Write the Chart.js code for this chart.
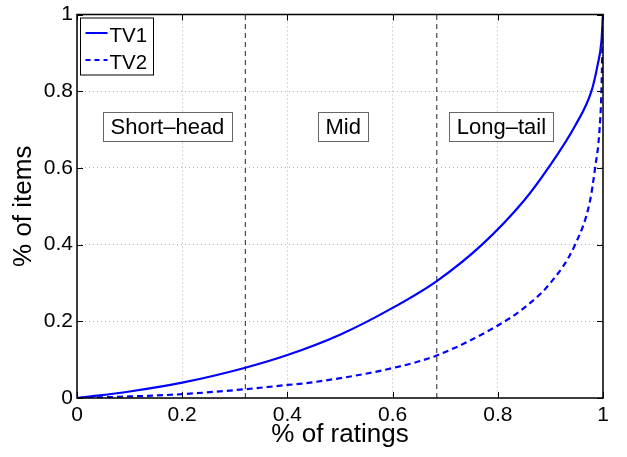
<!DOCTYPE html>
<html>
<head>
<meta charset="utf-8">
<script src="https://cdn.jsdelivr.net/npm/chart.js@4.4.0/dist/chart.umd.min.js"></script>
<style>
  html, body { margin: 0; padding: 0; background: #fff; }
  canvas { display: block; }
</style>
</head>
<body>
<canvas id="chart" width="627" height="457"></canvas>
<script>
// values
const tv1X = [0, 0.1, 0.2, 0.32, 0.4, 0.5, 0.6, 0.684, 0.77, 0.85, 0.896, 0.947, 0.978, 0.99, 0.997, 1];
const tv1Y = [0, 0.017, 0.04, 0.079, 0.112, 0.165, 0.235, 0.305, 0.4, 0.515, 0.6, 0.71, 0.8, 0.87, 0.93, 1];
const tv2X = [0, 0.1, 0.2, 0.32, 0.4, 0.443, 0.6, 0.684, 0.8, 0.85, 0.9, 0.947, 0.975, 0.985, 0.993, 0.997, 1];
const tv2Y = [0, 0.004, 0.01, 0.023, 0.034, 0.04, 0.078, 0.111, 0.189, 0.235, 0.3, 0.4, 0.512, 0.6, 0.692, 0.8, 1];
const seriesNames = ['TV1', 'TV2'];

const xTicks = [0, 0.2, 0.4, 0.6, 0.8, 1];
const yTicks = [0, 0.2, 0.4, 0.6, 0.8, 1];

// short-head / mid / long-tail split
const regionBounds = [0.32, 0.684];
const regionLabels = ['Short–head', 'Mid', 'Long–tail'];
const regionLabelX = [0.172, 0.506, 0.807];
const regionLabelY = 0.707;

const FONT = "'Liberation Sans', Arial, Helvetica, sans-serif";
const BLUE = '#0000ff';

const pts = (xs, ys) => xs.map((v, i) => ({ x: v, y: ys[i] }));
const fmt = v => String(Math.round(v * 10) / 10);

// frame, inward ticks, region boxes and legend (matlab look)
const matlabBits = {
  id: 'matlabBits',
  afterDatasetsDraw(chart) {
    const { ctx, chartArea: a, scales: { x, y } } = chart;
    ctx.save();

    // region labels
    ctx.font = '22px ' + FONT;
    ctx.textAlign = 'center';
    ctx.textBaseline = 'middle';
    regionLabels.forEach((t, i) => {
      const cx = x.getPixelForValue(regionLabelX[i]);
      const cy = y.getPixelForValue(regionLabelY);
      const w = Math.round(ctx.measureText(t).width + 15);
      const h = 29;
      const bx = Math.round(cx - w / 2) + 0.5, by = Math.round(cy - h / 2) + 0.5;
      ctx.fillStyle = '#fff';
      ctx.fillRect(bx, by, w, h);
      ctx.strokeStyle = '#666';
      ctx.lineWidth = 1;
      ctx.strokeRect(bx, by, w, h);
      ctx.fillStyle = '#000';
      ctx.fillText(t, cx, cy + 1);
    });

    // inward tick marks on all four sides
    ctx.strokeStyle = '#000';
    ctx.lineWidth = 1;
    ctx.beginPath();
    xTicks.forEach(v => {
      const px = Math.round(x.getPixelForValue(v)) + 0.5;
      ctx.moveTo(px, a.bottom); ctx.lineTo(px, a.bottom - 6);
      ctx.moveTo(px, a.top); ctx.lineTo(px, a.top + 6);
    });
    yTicks.forEach(v => {
      const py = Math.round(y.getPixelForValue(v)) + 0.5;
      ctx.moveTo(a.left, py); ctx.lineTo(a.left + 6, py);
      ctx.moveTo(a.right, py); ctx.lineTo(a.right - 6, py);
    });
    ctx.stroke();

    ctx.lineWidth = 1.5;
    ctx.strokeRect(a.left, a.top, a.right - a.left, a.bottom - a.top);

    // legend box
    const lx = a.left + 3.5, ly = a.top + 3.5, lw = 73, lh = 57;
    ctx.fillStyle = '#fff';
    ctx.fillRect(lx, ly, lw, lh);
    ctx.lineWidth = 1;
    ctx.strokeStyle = '#000';
    ctx.strokeRect(lx, ly, lw, lh);
    ctx.font = '20.5px ' + FONT;
    ctx.textAlign = 'left';
    ctx.textBaseline = 'alphabetic';
    seriesNames.forEach((name, i) => {
      const rowY = ly + 15 + i * 27;
      ctx.strokeStyle = BLUE;
      ctx.lineWidth = 2;
      ctx.setLineDash(i === 0 ? [] : [5, 4]);
      ctx.beginPath();
      ctx.moveTo(lx + 5, rowY);
      ctx.lineTo(lx + 27, rowY);
      ctx.stroke();
      ctx.setLineDash([]);
      ctx.fillStyle = '#000';
      ctx.fillText(name, lx + 29, rowY + 8.5);
    });

    ctx.restore();
  }
};

const gridOpts = { color: '#b4b4b4', lineWidth: 1, drawTicks: false };
const borderOpts = { display: false, dash: [1, 3] };

new Chart(document.getElementById('chart').getContext('2d'), {
  type: 'line',
  data: {
    datasets: [
      {
        label: seriesNames[0],
        data: pts(tv1X, tv1Y),
        borderColor: BLUE,
        borderWidth: 2.2,
        pointRadius: 0,
        cubicInterpolationMode: 'monotone'
      },
      {
        label: seriesNames[1],
        data: pts(tv2X, tv2Y),
        borderColor: BLUE,
        borderWidth: 2.2,
        borderDash: [6, 4],
        pointRadius: 0,
        cubicInterpolationMode: 'monotone'
      },
      ...regionBounds.map(b => ({
        label: 'bound',
        data: [{ x: b, y: 0 }, { x: b, y: 1 }],
        borderColor: '#222',
        borderWidth: 1,
        borderDash: [5, 4],
        pointRadius: 0
      }))
    ]
  },
  options: {
    responsive: false,
    animation: false,
    devicePixelRatio: 1,
    layout: { padding: { top: 11, right: 24, left: 0, bottom: 0 } },
    plugins: { legend: { display: false }, tooltip: { enabled: false } },
    scales: {
      x: {
        type: 'linear',
        min: 0,
        max: 1,
        grid: gridOpts,
        border: borderOpts,
        afterBuildTicks: s => { s.ticks = xTicks.map(v => ({ value: v })); },
        afterFit: s => { s.height = 59; },
        ticks: {
          padding: 7,
          color: '#000',
          font: { family: FONT, size: 21, lineHeight: 1 },
          callback: v => fmt(v)
        },
        title: {
          display: true,
          text: '% of ratings',
          color: '#000',
          font: { family: FONT, size: 26, lineHeight: 1.2 },
          padding: { top: 0, bottom: 7 }
        }
      },
      y: {
        type: 'linear',
        min: 0,
        max: 1,
        grid: gridOpts,
        border: borderOpts,
        afterBuildTicks: s => { s.ticks = yTicks.map(v => ({ value: v })); },
        afterFit: s => { s.width = 77; },
        ticks: {
          padding: 4,
          color: '#000',
          font: { family: FONT, size: 21, lineHeight: 1 },
          callback: v => fmt(v)
        },
        title: {
          display: true,
          text: '% of items',
          color: '#000',
          font: { family: FONT, size: 26, lineHeight: 1.2 },
          padding: { top: 8, bottom: 0 }
        }
      }
    }
  },
  plugins: [matlabBits]
});
</script>
</body>
</html>
